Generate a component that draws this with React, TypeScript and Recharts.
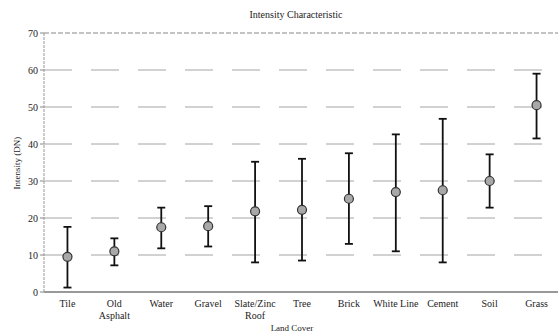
import React from "react";
import {
  ComposedChart,
  Line,
  ErrorBar,
  XAxis,
  YAxis,
  CartesianGrid,
  ReferenceLine,
} from "recharts";

const categories = [
  "Tile",
  "Old\nAsphalt",
  "Water",
  "Gravel",
  "Slate/Zinc\nRoof",
  "Tree",
  "Brick",
  "White Line",
  "Cement",
  "Soil",
  "Grass",
];
const means = [9.5, 11, 17.5, 17.8, 21.8, 22.2, 25.2, 27, 27.5, 30, 50.5];
const mins = [1.2, 7.2, 11.8, 12.3, 8, 8.5, 13, 11, 8, 22.8, 41.5];
const maxs = [17.6, 14.5, 22.8, 23.2, 35.2, 36, 37.5, 42.6, 46.8, 37.2, 59];
const yTicks = [0, 10, 20, 30, 40, 50, 60, 70];
const gridValues = [10, 20, 30, 40, 50, 60];

const data = categories.map((name, i) => ({
  name,
  mean: means[i],
  err: [means[i] - mins[i], maxs[i] - means[i]],
}));

const FONT = "'Liberation Serif', 'DejaVu Serif', serif";

function CategoryTick(props: any) {
  const { x, y, payload } = props;
  const lines = String(payload.value).split("\n");
  return (
    <text x={x} y={y} textAnchor="middle" fontFamily={FONT} fontSize={10} fill="#222">
      {lines.map((l, i) => (
        <tspan key={i} x={x} dy={i === 0 ? 7 : 12}>
          {l}
        </tspan>
      ))}
    </text>
  );
}

function MeanDot(props: any) {
  const { cx, cy } = props;
  if (cx == null || cy == null) return null;
  return <circle cx={cx} cy={cy} r={4.5} fill="#a8a8a8" stroke="#333" strokeWidth={1.2} />;
}

export default function App() {
  return (
    <div style={{ position: "absolute", left: 0, top: 0, width: 558, height: 336, overflow: "hidden", background: "#fff" }}>
      <ComposedChart
        width={560}
        height={336}
        data={data}
        margin={{ top: 33, right: 0, bottom: 0, left: 0 }}
      >
        <CartesianGrid
          vertical={false}
          horizontalValues={gridValues}
          stroke="#9a9a9a"
          strokeWidth={0.9}
          strokeDasharray="28 19"
        />
        <ReferenceLine y={70} stroke="#888" strokeDasharray="5 2" />
        <XAxis
          dataKey="name"
          scale="band"
          tick={<CategoryTick />}
          tickLine={false}
          axisLine={{ stroke: "#777", strokeWidth: 1.5 }}
          interval={0}
          height={44}
        />
        <YAxis
          domain={[0, 70]}
          ticks={yTicks}
          width={44}
          tickSize={4}
          tickLine={{ stroke: "#888" }}
          axisLine={{ stroke: "#999", strokeDasharray: "3 1" }}
          tick={{ fontFamily: FONT, fontSize: 10, fill: "#222" }}
        />
        <Line
          dataKey="mean"
          stroke="none"
          dot={<MeanDot />}
          activeDot={false}
          isAnimationActive={false}
        >
          <ErrorBar dataKey="err" width={4} stroke="#111" strokeWidth={1.8} direction="y" />
        </Line>
        <text x={296} y={18} textAnchor="middle" fontFamily={FONT} fontSize={10} fill="#222">
          Intensity Characteristic
        </text>
        <text
          x={20}
          y={163}
          textAnchor="middle"
          fontFamily={FONT}
          fontSize={9}
          fill="#222"
          transform="rotate(-90 20 163)"
        >
          Intensity (DN)
        </text>
        <text x={292} y={331} textAnchor="middle" fontFamily={FONT} fontSize={9} fill="#222">
          Land Cover
        </text>
      </ComposedChart>
    </div>
  );
}
